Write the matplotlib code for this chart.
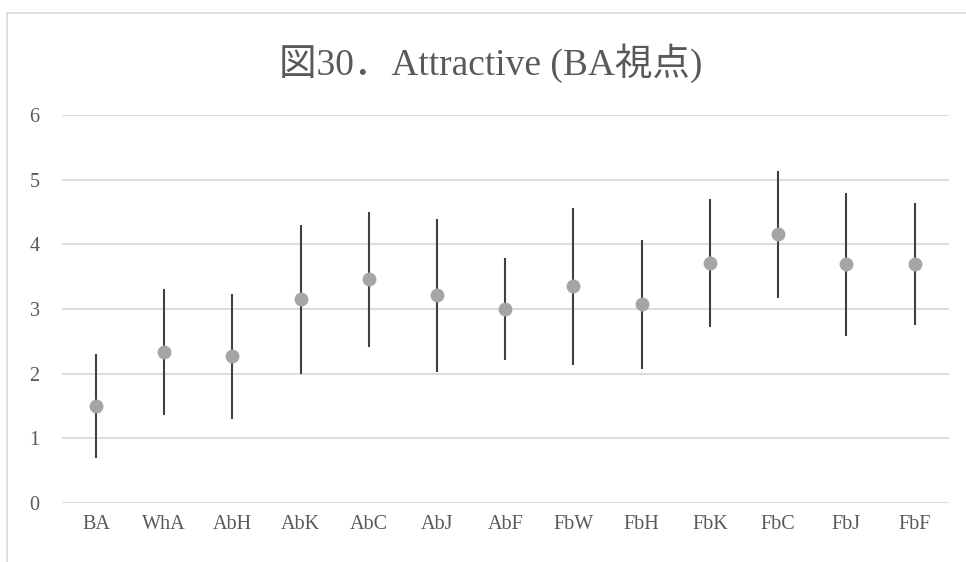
import numpy as np
import matplotlib
matplotlib.use("Agg")
import matplotlib.pyplot as plt
from matplotlib.patches import Rectangle

plt.rcParams['font.family'] = ['Liberation Serif', 'Noto Sans CJK JP']

# mean score with low/high range per group
groups = ["BA", "WhA", "AbH", "AbK", "AbC", "AbJ", "AbF", "FbW", "FbH", "FbK", "FbC", "FbJ", "FbF"]
means = [1.50, 2.34, 2.27, 3.16, 3.46, 3.22, 3.00, 3.36, 3.08, 3.72, 4.16, 3.70, 3.70]
highs = [2.31, 3.31, 3.23, 4.30, 4.51, 4.40, 3.79, 4.57, 4.07, 4.71, 5.14, 4.80, 4.64]
lows = [0.69, 1.36, 1.30, 2.00, 2.42, 2.02, 2.22, 2.14, 2.08, 2.72, 3.17, 2.59, 2.75]

text_col = '#595959'
grid_col = '#D9D9D9'

fig = plt.figure(figsize=(9.66, 5.62), dpi=100)
ax = fig.add_axes([0.064, 0.105, 0.918, 0.690])

x = np.arange(len(groups))
m = np.array(means)
err = [m - np.array(lows), np.array(highs) - m]
ax.errorbar(x, m, yerr=err, fmt='none', ecolor='#404040', elinewidth=1.5, capsize=0, zorder=3)
ax.plot(x, m, 'o', color='#A5A5A5', markersize=10, markeredgewidth=0, zorder=4)

ax.set_xlim(-0.5, len(groups) - 0.5)
ax.set_ylim(0, 6)
ax.set_yticks(range(0, 7))
ax.set_xticks(x)
ax.set_xticklabels(groups)
ax.grid(axis='y', color=grid_col, linewidth=1.3)
ax.set_axisbelow(True)
for s in ax.spines.values():
    s.set_visible(False)
ax.tick_params(axis='both', length=0, labelsize=14.5, colors=text_col)
ax.tick_params(axis='y', pad=16)
ax.tick_params(axis='x', pad=9)

fig.text(0.508, 0.888, "図30．Attractive (BA視点)", ha='center', va='center',
         fontsize=27, color=text_col)

# chart area border
fig.patches.append(Rectangle((7 / 966, -0.1), 1.2, 1.1 - 12.5 / 562, transform=fig.transFigure,
                             fill=False, edgecolor=grid_col, linewidth=1.2))

fig.savefig('out.png', dpi=100)
